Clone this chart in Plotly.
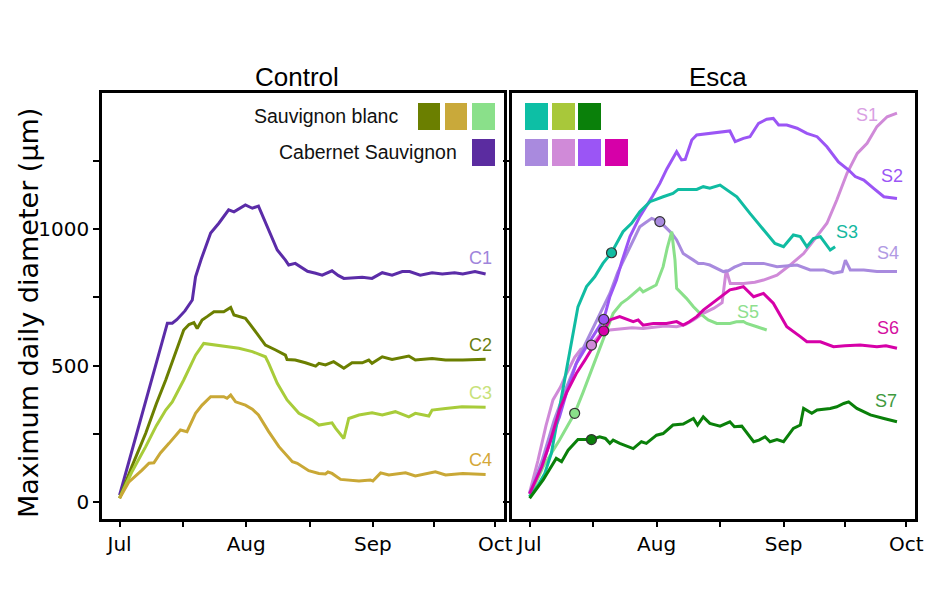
import plotly.graph_objects as go

# ---- days are counted from 1 July; values are maximum daily trunk diameter (µm) ----

# Control vines
c1_day = [0, 3, 6, 9, 11.7, 12.9, 14, 16, 17.8, 18.6, 20, 22.3, 24.3, 26.7, 28, 30.8, 32.5, 34, 36.5, 38.6,
          40.6, 41.4, 43, 44.7, 46, 48, 49.6, 52, 53.5, 54.9, 57, 59.4, 61.8, 64.3, 66.7, 69.2, 71, 73.6,
          76.5, 79, 82, 84, 87, 89.6]
c1_val = [25, 185, 350, 510, 655, 655, 668, 700, 740, 825, 890, 985, 1021, 1070, 1063, 1088, 1076, 1084, 996, 923,
          886, 868, 874, 856, 845, 838, 831, 847, 830, 819, 822, 823, 819, 840, 831, 844, 844, 831,
          840, 835, 840, 835, 844, 835]

c2_day = [0, 3, 6.4, 9, 11.3, 13.5, 15.7, 17, 18.2, 19, 20.2, 21.5, 23.1, 25.5, 27.2, 28, 30.8, 32, 33.3, 35.7,
          38.2, 40.6, 41, 43, 45.5, 48, 48.8, 50.4, 52.4, 54.9, 56.9, 59.4, 61, 61.8, 64.3, 66.7, 70.8, 72.4,
          76.5, 79.8, 84, 89.6]
c2_val = [14, 130, 252, 360, 447, 540, 630, 650, 657, 636, 667, 680, 697, 697, 713, 685, 673, 650, 624, 575,
          557, 538, 522, 520, 510, 498, 508, 502, 514, 490, 510, 510, 520, 508, 532, 522, 535, 520,
          526, 520, 520, 523]

c3_day = [0, 3, 6.4, 9, 11.3, 12.9, 15.7, 18.6, 20.6, 29.2, 32.5, 35.7, 36.5, 38.6, 41, 43.9, 47.1, 48.8, 52,
          52.9, 54.9, 56.1, 58.6, 61.8, 64.3, 67.5, 70.8, 72.4, 75.7, 76.5, 79.8, 83.8, 89.6]
c3_val = [14, 110, 203, 280, 337, 367, 447, 538, 581, 563, 551, 532, 508, 435, 374, 325, 300, 282, 290,
          270, 233, 306, 319, 327, 319, 331, 312, 325, 315, 337, 343, 349, 347]

c4_day = [0, 2.3, 5.5, 7.2, 8.4, 10, 12.1, 14.9, 16.5, 18.6, 20.2, 22.3, 25.5, 26.3, 27.2, 28.4, 30.8, 32.5, 34,
          36.5, 39, 42.3, 43.5, 46.3, 48.8, 50.4, 51, 52, 54.1, 58.6, 61.4, 62, 63.9, 65.9, 70, 72.4, 77.3,
          79.8, 84, 89.6]
c4_val = [14, 74, 117, 142, 144, 180, 215, 264, 258, 325, 355, 386, 386, 380, 392, 367, 355, 340, 319,
          258, 203, 148, 142, 115, 105, 103, 110, 105, 83, 77, 81, 77, 107, 99, 107, 96, 111,
          99, 105, 101]

# Esca-symptomatic vines
s1_day = [0, 2, 4, 5.7, 7.5, 9, 11, 12.5, 15.1, 17, 19.6, 22, 25, 27.7, 30, 33, 35.9, 38, 40, 42.4, 45, 47,
          48, 49, 50, 52.2, 55, 57.1, 60.4, 63.6, 66.9, 70.2, 72.6, 75, 77.5, 80, 82.4, 84.8, 87.3, 89.7]
s1_val = [35, 150, 280, 374, 420, 470, 530, 560, 575, 610, 630, 633, 638, 636, 640, 645, 642, 650, 667, 691, 710, 730,
          850, 800, 800, 800, 805, 813, 831, 868, 910, 972, 1021, 1106, 1204, 1277, 1314, 1375, 1411, 1424]

s2_day = [0, 3, 5, 7.3, 9, 11.4, 13.5, 15.5, 18.1, 19.6, 21.2, 22.5, 24.5, 26.9, 28.5, 30, 31.8, 33.5, 35.9, 37.1,
          38, 39.6, 40.8, 44, 48.9, 50.2, 52.2, 53.8, 55.9, 57.9, 59.5, 60.8, 62.8, 65.3, 67.7, 70.2, 72.6,
          75.4, 77.9, 79.5, 81.6, 84, 86.5, 89.7]
s2_val = [32, 130, 220, 312, 400, 508, 560, 606, 669, 752, 813, 880, 972, 1045, 1082, 1120, 1167, 1220, 1283, 1253,
          1255, 1326, 1344, 1350, 1359, 1320, 1332, 1338, 1387, 1402, 1405, 1381, 1381, 1369, 1350, 1338, 1301,
          1246, 1216, 1192, 1179, 1149, 1118, 1112]

s3_day = [0, 2, 3.7, 5.3, 8.1, 10, 11.8, 13.9, 15.9, 17.9, 20, 22.8, 24.9, 26.9, 29.4, 32.6, 35, 36.3, 40.8, 42.4,
          44, 46.5, 47.7, 50.6, 53.8, 57.1, 59.9, 62, 64.4, 66.1, 67.7, 69.3, 71, 73.4, 74.6]
s3_val = [20, 60, 105, 178, 410, 560, 715, 789, 825, 874, 913, 990, 1021, 1063, 1100, 1118, 1130, 1145, 1145, 1155,
          1149, 1161, 1149, 1118, 1057, 996, 947, 935, 978, 972, 935, 965, 972, 923, 935]

s4_day = [0, 3, 6, 9, 12, 15, 18, 19.6, 21.5, 23.7, 26.9, 28.1, 29.8, 31.8, 33.4, 34.7, 35.9, 37.5, 40, 41.2, 42.4,
          44, 47.3, 48.5, 50, 52.2, 57.1, 60.4, 65.3, 68.5, 71.8, 74.2, 76.3, 77.1, 78.3, 81.6, 84.8, 89.7]
s4_val = [30, 150, 300, 420, 530, 620, 710, 764, 840, 910, 1008, 1021, 1039, 1027, 1002, 984, 960, 910, 886, 874, 874,
          868, 844, 847, 860, 874, 874, 862, 868, 850, 850, 838, 844, 886, 850, 850, 844, 844]

s5_day = [0, 3.3, 7.3, 11, 13, 15.5, 17.9, 20.4, 22.4, 24, 25.5, 26.9, 27.7, 29.5, 30.9, 32.6, 33.6, 34.7, 35.5,
          35.9, 38.3, 40, 41.6, 43.6, 45.7, 48.9, 50.5, 52.2, 53, 55.5, 57.9]
s5_val = [20, 129, 227, 325, 400, 495, 593, 691, 728, 745, 765, 783, 770, 785, 795, 862, 930, 990, 886,
          783, 746, 715, 691, 667, 654, 654, 660, 661, 654, 642, 630]

s6_day = [0, 3, 5, 7.3, 9, 11.4, 13.5, 15.5, 18.1, 19.6, 22, 23.5, 25.3, 26.5, 27.7, 30.2, 33.4, 35.9, 37.5, 39,
          40.8, 42.4, 45.7, 48.9, 50.5, 52.2, 54.7, 57.1, 59.5, 61, 62.8, 66.1, 67.7, 71, 74.2, 77, 80.7, 84.8,
          87, 89.7]
s6_val = [30, 130, 220, 337, 400, 471, 520, 569, 627, 667, 679, 672, 661, 667, 648, 654, 654, 661, 648, 660,
          679, 703, 740, 777, 782, 789, 752, 764, 728, 690, 642, 606, 587, 587, 569, 572, 575, 569,
          572, 563]

s7_day = [0, 3.3, 6.5, 7.8, 9.4, 11.8, 15.1, 17.1, 18.5, 19.6, 20.4, 22, 25.3, 27.3, 28.5, 31, 32.6, 35, 37.5, 40,
          41, 42.4, 44, 46.5, 48.9, 50, 51.8, 54.7, 56, 57.5, 58.7, 60.4, 62, 64.4, 66.1, 66.9, 68.9, 70.2,
          73.4, 75, 76.7, 77.9, 79.9, 83.2, 86.5, 89.7]
s7_val = [14, 81, 160, 148, 190, 229, 229, 239, 233, 215, 227, 215, 196, 221, 215, 245, 251, 282, 286, 306,
          282, 312, 288, 278, 294, 276, 278, 221, 227, 239, 221, 229, 221, 270, 282, 343, 325, 337,
          343, 349, 361, 367, 343, 319, 306, 294]

# day on which each symptomatic vine first showed foliar symptoms
onset_day = {"S1": 15.1, "S2": 18.1, "S3": 20, "S4": 31.8, "S5": 11, "S6": 18.1, "S7": 15.1}

month_ticks = [0, 15.5, 31, 46.5, 62, 77, 92]
month_text = ["Jul", "", "Aug", "", "Sep", "", "Oct"]
y_ticks = [0, 250, 500, 750, 1000, 1250]
y_text = ["0", "", "500", "", "1000", ""]

control = [
    ("C1", c1_day, c1_val, "#5b2ca8", "#9f85db", 88.3, 894),
    ("C2", c2_day, c2_val, "#6b7f00", "#6b7f10", 88.3, 575),
    ("C3", c3_day, c3_val, "#a8cc3a", "#c8e27a", 88.3, 399),
    ("C4", c4_day, c4_val, "#c9a836", "#d4a838", 88.3, 154),
]
esca = [
    ("S1", s1_day, s1_val, "#d08ad8", "#d9a0e3", 82.5, 1418),
    ("S4", s4_day, s4_val, "#a88ade", "#b09ae3", 87.6, 912),
    ("S2", s2_day, s2_val, "#9b55f5", "#9b55f5", 88.6, 1194),
    ("S5", s5_day, s5_val, "#8ae08a", "#8ee08e", 53.3, 696),
    ("S3", s3_day, s3_val, "#10bca2", "#14b8a0", 77.6, 989),
    ("S6", s6_day, s6_val, "#d600a8", "#d4109f", 87.6, 637),
    ("S7", s7_day, s7_val, "#0a800a", "#3e9a3e", 86.9, 370),
]

W, H = 931, 612
fig = go.Figure()
annotations = []

for name, d, v, col, lab_col, lx, ly in control:
    fig.add_trace(go.Scatter(x=d, y=v, mode="lines", line=dict(color=col, width=3),
                             xaxis="x", yaxis="y", showlegend=False, hoverinfo="skip"))
    annotations.append(dict(x=lx, y=ly, xref="x", yref="y", text=name, showarrow=False,
                            xanchor="center", yanchor="middle",
                            font=dict(family="Liberation Sans", size=18, color=lab_col)))

for name, d, v, col, lab_col, lx, ly in esca:
    fig.add_trace(go.Scatter(x=d, y=v, mode="lines", line=dict(color=col, width=3),
                             xaxis="x2", yaxis="y2", showlegend=False, hoverinfo="skip"))
    annotations.append(dict(x=lx, y=ly, xref="x2", yref="y2", text=name, showarrow=False,
                            xanchor="center", yanchor="middle",
                            font=dict(family="Liberation Sans", size=18, color=lab_col)))

# symptom-onset markers, taken from the series themselves
for name, d, v, col, lab_col, lx, ly in esca:
    i = d.index(onset_day[name])
    fig.add_trace(go.Scatter(x=[d[i]], y=[v[i]], mode="markers",
                             marker=dict(size=10, color=col, line=dict(color="#333333", width=1.2)),
                             xaxis="x2", yaxis="y2", showlegend=False, hoverinfo="skip"))


def paper_text(px, py, text, size, family="Liberation Sans", xanchor="center", angle=0, color="black"):
    return dict(x=px / W, y=1 - py / H, xref="paper", yref="paper", text=text, showarrow=False,
                xanchor=xanchor, yanchor="middle", textangle=angle,
                font=dict(family=family, size=size, color=color))


# panel titles, shared y title and cultivar key text
annotations += [
    paper_text(297, 77, "Control", 26),
    paper_text(718, 77, "Esca", 26),
    paper_text(28, 313, "Maximum daily diameter (μm)", 27, family="DejaVu Sans", angle=-90),
    paper_text(400, 116, "Sauvignon blanc", 19.5, xanchor="right", color="#111111"),
    paper_text(459, 152, "Cabernet Sauvignon", 19.5, xanchor="right", color="#111111"),
]


# colour keys for cultivar/vine groups
def key(x0, x1, y0, y1, color):
    return dict(type="rect", xref="paper", yref="paper", x0=x0 / W, x1=x1 / W,
                y0=1 - y1 / H, y1=1 - y0 / H, fillcolor=color, line=dict(width=0), layer="above")


shapes = [
    key(418, 440, 103, 130, "#6b7f00"), key(445, 467, 103, 130, "#c9a93a"), key(472, 495, 103, 130, "#8ae08a"),
    key(472, 495, 139, 166, "#5b2ca0"),
    key(525, 548, 103, 130, "#0dbfa5"), key(552, 575, 103, 130, "#a8c83a"), key(578, 601, 103, 130, "#0a800a"),
    key(525, 548, 139, 166, "#a98ade"), key(552, 575, 139, 166, "#d08ad8"), key(578, 601, 139, 166, "#9b55f5"),
    key(605, 628, 139, 166, "#d600a8"),
]

xr = [-4.3, 94.1]
yr = [-62, 1498]
ydom = [1 - 519 / H, 1 - 93 / H]
tickfont = dict(family="DejaVu Sans", size=20, color="black")
xcommon = dict(range=xr, tickmode="array", tickvals=month_ticks, ticktext=month_text, ticks="outside",
               ticklen=5, tickwidth=1.5, tickcolor="black", showline=True, linecolor="black", linewidth=2.5,
               mirror=True, showgrid=False, zeroline=False, tickfont=tickfont, fixedrange=True,
               automargin=False)
ycommon = dict(range=yr, domain=ydom, tickmode="array", tickvals=y_ticks, ticktext=y_text, ticks="outside",
               ticklen=6, tickwidth=1.5, tickcolor="black", showline=True, linecolor="black", linewidth=2.5,
               mirror=True, showgrid=False, zeroline=False, tickfont=tickfont, fixedrange=True,
               automargin=False)

fig.update_layout(
    width=W, height=H, margin=dict(l=0, r=0, t=0, b=0),
    paper_bgcolor="white", plot_bgcolor="white",
    xaxis=dict(domain=[102 / W, 504 / W], anchor="y", **xcommon),
    yaxis=dict(anchor="x", **ycommon),
    xaxis2=dict(domain=[512 / W, 915 / W], anchor="y2", **xcommon),
    yaxis2=dict(anchor="x2", showticklabels=False, **ycommon),
    annotations=annotations, shapes=shapes, showlegend=False,
)

fig.write_html("out.html")
